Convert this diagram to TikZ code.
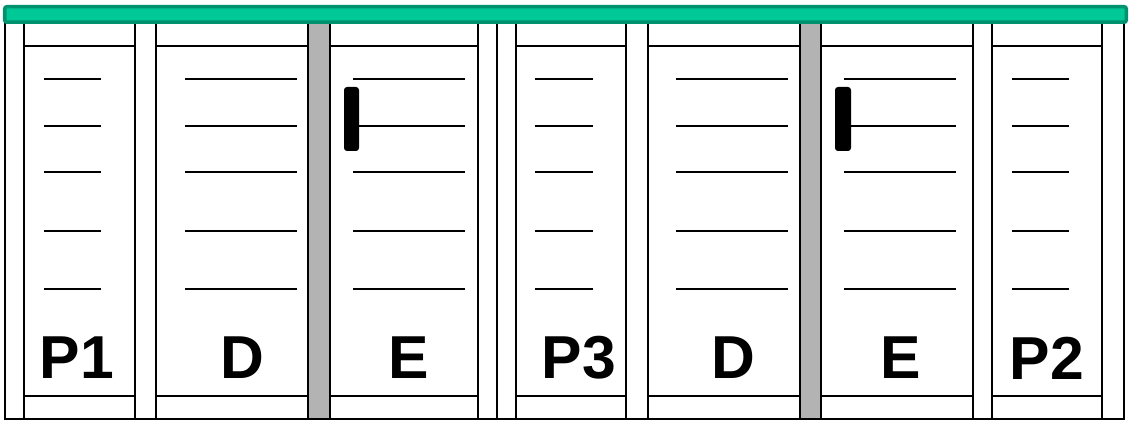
\documentclass[tikz,border=0pt]{standalone}
\usepackage{fontspec}
\setmainfont{Liberation Sans}
\usetikzlibrary{calc,positioning}

\definecolor{barlight}{RGB}{0,200,150}
\definecolor{bardark}{RGB}{0,145,110}
\definecolor{postgray}{RGB}{179,179,179}

\tikzset{
  frame/.style={draw=black,line width=0.4mm,fill=white},
  shelf/.style={draw=black,line width=0.4mm},
  post/.style={draw=black,line width=0.4mm,fill=white},
  graypost/.style={draw=black,line width=0.4mm,fill=postgray},
  handle/.style={fill=black,rounded corners=0.6mm},
  bay/.style={draw=none,fill=none,font=\fontsize{34.5}{36}\selectfont\bfseries}
}

\begin{document}
\begin{tikzpicture}[x=0.2mm,y=-0.2mm]
  \useasboundingbox (0,0) rectangle (1131,424);

  % Bays: outline, top and bottom beams
  \foreach \xa/\xb in {24/135,156/308,330/478,516/626,648/800,821/973,992/1102}{
    \draw[frame] (\xa,23) rectangle (\xb,419);
    \draw[shelf] (\xa,46) -- (\xb,46);
    \draw[shelf] (\xa,396) -- (\xb,396);
  }

  % Shelves inside the bays
  \foreach \xa/\xb in {44/101,185/297,353/465,535/593,676/788,844/956,1012/1069}{
    \foreach \y in {79,126,172,231,289}{
      \draw[shelf] (\xa,\y) -- (\xb,\y);
    }
  }

  % Posts
  \foreach \xa/\xb in {5/24,135/156,478/497,497/516,626/648,973/992,1102/1124}{
    \draw[post] (\xa,21) rectangle (\xb,419);
  }
  \draw[graypost] (308,21) rectangle (330,419);
  \draw[graypost] (800,21) rectangle (821,419);

  % Top bar
  \draw[draw=bardark,fill=barlight,line width=0.7mm,rounded corners=0.4mm] (4.75,6.75) rectangle (1126.25,22.25);

  % Handles
  \fill[handle] (344,87) rectangle (359,151);
  \fill[handle] (835,87) rectangle (851,151);

  % Labels
  \node[bay] (P1) at (77,358) {P1};
  \node[bay] (D1) at (242,358) {D};
  \node[bay] (E1) at (409,358) {E};
  \node[bay] (P3) at (579,358) {P3};
  \node[bay] (D2) at (733,358) {D};
  \node[bay] (E2) at (901,358) {E};
  \node[bay] (P2) at (1047,358) {P2};

\end{tikzpicture}
\end{document}
